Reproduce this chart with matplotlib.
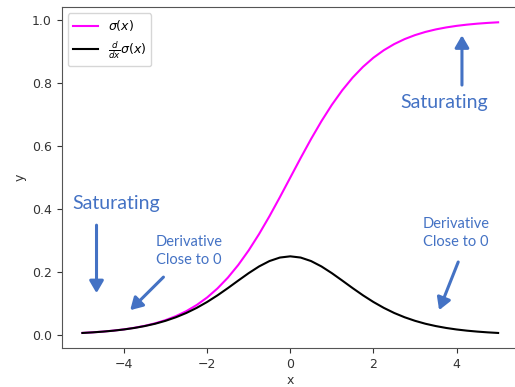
import matplotlib
matplotlib.use('Agg')
import matplotlib.pyplot as plt

# valores (passo 0.25)
x = [-5.0, -4.75, -4.5, -4.25, -4.0, -3.75, -3.5, -3.25, -3.0, -2.75, -2.5,
     -2.25, -2.0, -1.75, -1.5, -1.25, -1.0, -0.75, -0.5, -0.25, 0.0,
     0.25, 0.5, 0.75, 1.0, 1.25, 1.5, 1.75, 2.0, 2.25, 2.5,
     2.75, 3.0, 3.25, 3.5, 3.75, 4.0, 4.25, 4.5, 4.75, 5.0]
sigma = [0.0067, 0.0086, 0.0110, 0.0141, 0.0180, 0.0230, 0.0293, 0.0373, 0.0474, 0.0601, 0.0759,
         0.0954, 0.1192, 0.1481, 0.1824, 0.2227, 0.2689, 0.3208, 0.3775, 0.4378, 0.5000,
         0.5622, 0.6225, 0.6792, 0.7311, 0.7773, 0.8176, 0.8519, 0.8808, 0.9046, 0.9241,
         0.9399, 0.9526, 0.9627, 0.9707, 0.9770, 0.9820, 0.9859, 0.9890, 0.9914, 0.9933]
dsigma = [0.0066, 0.0085, 0.0109, 0.0139, 0.0177, 0.0225, 0.0285, 0.0359, 0.0452, 0.0565, 0.0701,
          0.0863, 0.1050, 0.1261, 0.1491, 0.1731, 0.1966, 0.2179, 0.2350, 0.2461, 0.2500,
          0.2461, 0.2350, 0.2179, 0.1966, 0.1731, 0.1491, 0.1261, 0.1050, 0.0863, 0.0701,
          0.0565, 0.0452, 0.0359, 0.0285, 0.0225, 0.0177, 0.0139, 0.0109, 0.0085, 0.0066]

azul = '#4472C4'
fonte_nota = ['Lato', 'DejaVu Sans']

fig = plt.figure(figsize=(5.15, 3.87), dpi=100)
ax = fig.add_axes([0.1196, 0.0995, 0.888, 0.883])

ax.plot(x, sigma, color='#ff00ff', lw=1.5, label=r'$\sigma(x)$')
ax.plot(x, dsigma, color='black', lw=1.5, label=r'$\frac{d}{dx}\sigma(x)$')

ax.set_xlabel('x', fontsize=9, labelpad=2, color='#333333')
ax.set_ylabel('y', fontsize=9, color='#333333')
ax.tick_params(labelsize=9, colors='#333333')
for s in ax.spines.values():
    s.set_color('#555555')
ax.legend(loc='upper left', fontsize=9)

# anotacoes
ax.text(-4.18, 0.419, 'Saturating', color=azul, fontsize=14, family=fonte_nota,
        ha='center', va='center')
ax.text(3.70, 0.737, 'Saturating', color=azul, fontsize=14, family=fonte_nota,
        ha='center', va='center')
ax.text(-2.43, 0.267, 'Derivative\nClose to 0', color=azul, fontsize=10.5,
        family=fonte_nota, ha='center', va='center', linespacing=1.3)
ax.text(3.99, 0.324, 'Derivative\nClose to 0', color=azul, fontsize=10.5,
        family=fonte_nota, ha='center', va='center', linespacing=1.3)

seta = dict(arrowstyle='-|>,head_length=0.6,head_width=0.35', color=azul, lw=2.2,
            shrinkA=0, shrinkB=0, mutation_scale=12)
ax.annotate('', xy=(-4.66, 0.133), xytext=(-4.66, 0.349), arrowprops=seta)
ax.annotate('', xy=(-3.85, 0.079), xytext=(-3.05, 0.184), arrowprops=seta)
ax.annotate('', xy=(4.13, 0.952), xytext=(4.13, 0.794), arrowprops=seta)
ax.annotate('', xy=(3.58, 0.079), xytext=(4.04, 0.232), arrowprops=seta)

plt.savefig('out.png', dpi=100)
